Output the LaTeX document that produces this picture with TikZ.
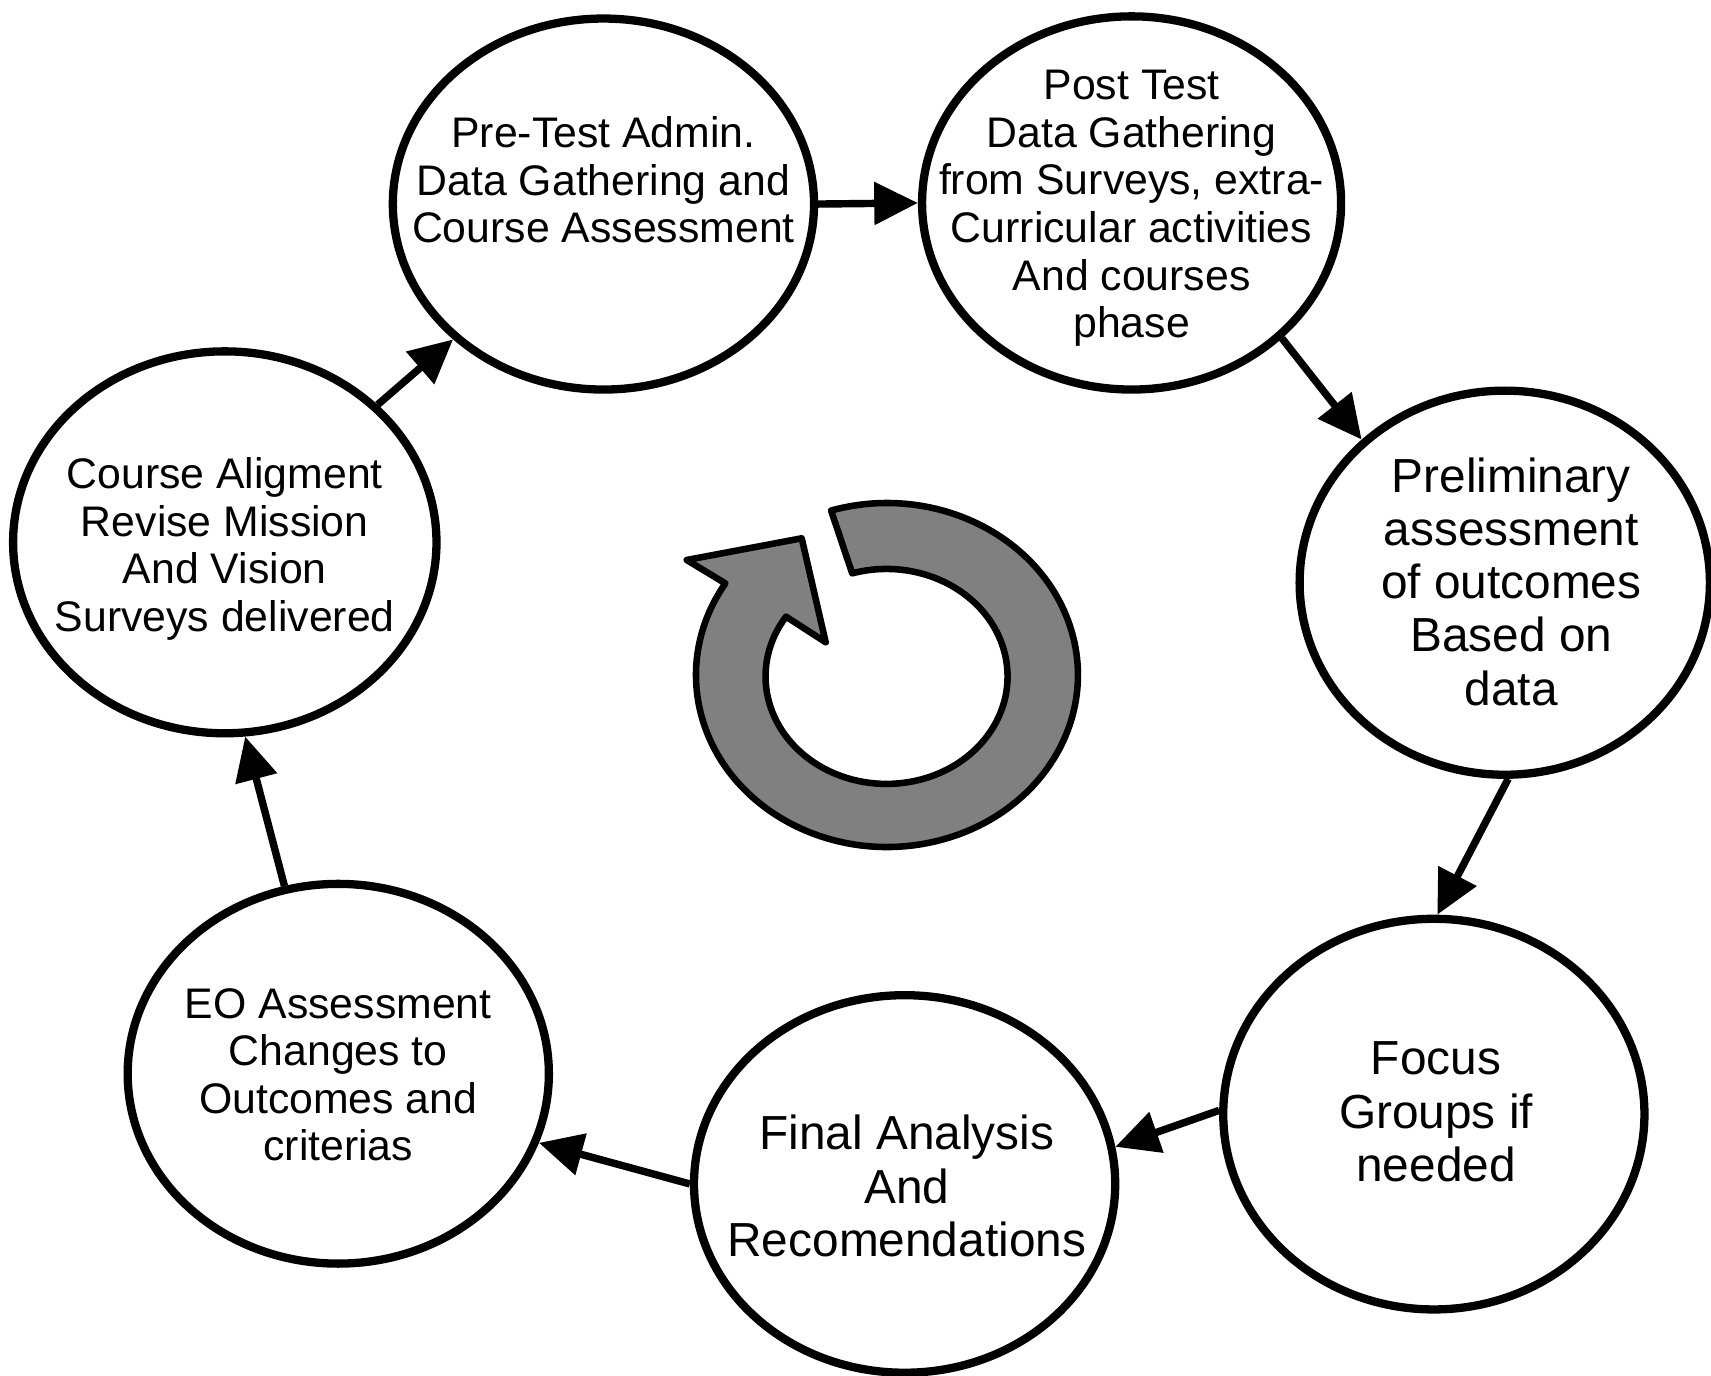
\documentclass[tikz,border=0pt]{standalone}
\usepackage{fontspec}
\setmainfont{Liberation Sans}
\usetikzlibrary{arrows.meta,shapes.geometric}
\tikzset{
  stage/.style={draw=black, line width=3.8pt, ellipse, inner sep=0pt, fill=white},
  smalltxt/.style={align=center, inner sep=0pt, font=\fontsize{19.6}{21.8}\selectfont},
  bigtxt/.style={align=center, inner sep=0pt, font=\fontsize{21.9}{24.4}\selectfont},
  flow/.style={draw=black, line width=3.4pt, -{Triangle[length=20pt,width=19pt]}},
  ring/.style={draw=black, fill=gray50, line width=3pt, line join=round}
}
\definecolor{gray50}{HTML}{808080}
\begin{document}
\begin{tikzpicture}[x=0.5pt,y=0.5pt]
\useasboundingbox (0,0) rectangle (1568,-1261);
\begin{scope}
\clip (0,0) rectangle (1568,-1261);
% circles
\node[stage, minimum width=193pt, minimum height=170pt] (pre) at (553,-187) {};
\node[stage, minimum width=192pt, minimum height=171pt] (post) at (1037,-186) {};
\node[stage, minimum width=188pt, minimum height=176pt] (prel) at (1379,-534) {};
\node[stage, minimum width=193pt, minimum height=179pt] (focus) at (1314,-1021) {};
\node[stage, minimum width=193pt, minimum height=173pt] (final) at (829,-1085) {};
\node[stage, minimum width=193pt, minimum height=174pt] (eo) at (310,-984) {};
\node[stage, minimum width=194pt, minimum height=175pt] (course) at (206,-497) {};
\end{scope}
% texts
\node[smalltxt] (pret) at (553,-165) {Pre-Test Admin.\\Data Gathering and\\Course Assessment};
\node[smalltxt] (postt) at (1037,-191) {Post Test\\Data Gathering\\from Surveys, extra-\\Curricular activities\\And courses\\phase};
\node[bigtxt] (prelt) at (1385,-533) {Preliminary\\assessment\\of outcomes\\Based on\\data};
\node[bigtxt] (focust) at (1316,-1019) {Focus\\Groups if\\needed};
\node[bigtxt] (finalt) at (831,-1087) {Final Analysis\\And\\Recomendations};
\node[smalltxt] (eot) at (310,-985) {EO Assessment\\Changes to\\Outcomes and\\criterias};
\node[smalltxt] (courset) at (206,-503) {Course Aligment\\Revise Mission\\And Vision\\Surveys delivered};
% connectors
\draw[flow] (pre.0) -- (post.180);
\draw[flow] (post.-42.6) -- (prel.135.9);
\draw[flow] (prel.-89) -- (focus.89.4);
\draw[flow] (focus.179.4) -- (final.10);
\draw[flow] (final.180.3) -- (eo.-19.4);
\draw[flow] (eo.106.6) -- (course.-84.2);
\draw[flow] (course.42) -- (pre.-138.5);
% central cycle arrow
\path[ring] (812.8,-618.6) ++(107:175 and 157.6)
  arc[start angle=107, end angle=-212.2, x radius=175, y radius=157.6]
  -- (629.3,-513.2) -- (734.7,-493.3) -- (756.7,-588.6) -- (720.3,-565.1)
  arc[start angle=-213.8, end angle=106.5, x radius=110.9, y radius=98.5]
  -- cycle;
\end{tikzpicture}
\end{document}
